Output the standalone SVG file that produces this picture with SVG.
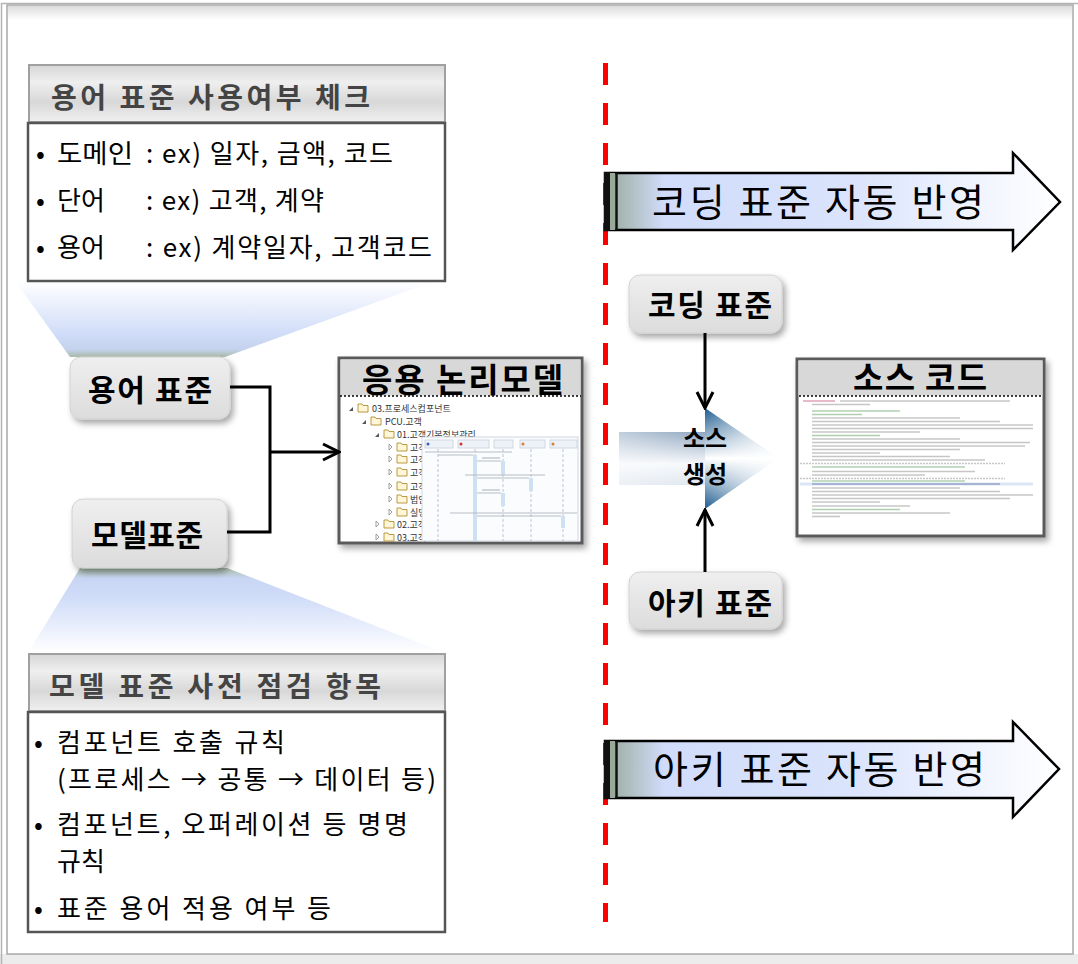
<svg xmlns="http://www.w3.org/2000/svg" width="1078" height="964" viewBox="0 0 1078 964">
<defs>
<style>
.ko{font-family:"Noto Sans CJK KR","Liberation Sans",sans-serif}
.hdr{font-size:28px;font-weight:700;fill:#444}
.body{font-size:26px;fill:#000}
.node{font-size:30px;font-weight:700;fill:#000}
.big{font-size:38px;fill:#000}
.ttl{font-size:33px;font-weight:700;fill:#000}
.tree{font-size:9px;fill:#333}
.conn{fill:none;stroke:#000;stroke-width:3}
.code{stroke-width:1.6;opacity:.55}
</style>
<linearGradient id="hdrG" x1="0" y1="0" x2="0" y2="1">
<stop offset="0" stop-color="#d6d6d6"/><stop offset=".3" stop-color="#efefef"/><stop offset=".65" stop-color="#d8d8d8"/><stop offset="1" stop-color="#f0f0f0"/>
</linearGradient>
<linearGradient id="nodeG" x1="0" y1="0" x2="0" y2="1">
<stop offset="0" stop-color="#efefef"/><stop offset="1" stop-color="#dcdcdc"/>
</linearGradient>
<linearGradient id="fanTop" x1="0" y1="0" x2="0" y2="1">
<stop offset="0" stop-color="#ffffff"/><stop offset=".7" stop-color="#d0dcf8"/><stop offset=".9" stop-color="#c4d2ee"/><stop offset="1" stop-color="#a9bca9"/>
</linearGradient>
<linearGradient id="fanBot" x1="0" y1="0" x2="0" y2="1">
<stop offset="0" stop-color="#a9bca9"/><stop offset=".12" stop-color="#c8d6f4"/><stop offset=".35" stop-color="#d0dcf8"/><stop offset="1" stop-color="#ffffff"/>
</linearGradient>
<linearGradient id="bigG" x1="0" y1="0" x2="1" y2="0">
<stop offset="0" stop-color="#98a898"/><stop offset=".13" stop-color="#d0dcfa"/><stop offset=".55" stop-color="#dbe4fc"/><stop offset="1" stop-color="#ffffff"/>
</linearGradient>
<linearGradient id="bandG" x1="0" y1="0" x2="0" y2="1">
<stop offset="0" stop-color="#8da5bf"/><stop offset=".6" stop-color="#f6f8fb"/><stop offset="1" stop-color="#dde5ee"/>
</linearGradient>
<linearGradient id="bandH" x1="0" y1="0" x2="1" y2="0">
<stop offset="0" stop-color="#ffffff" stop-opacity=".45"/><stop offset="1" stop-color="#ffffff" stop-opacity="0"/>
</linearGradient>
<linearGradient id="triG" x1="0" y1="0" x2="0" y2="1">
<stop offset="0" stop-color="#1c5a8e"/><stop offset=".5" stop-color="#ffffff"/><stop offset="1" stop-color="#1c5a8e"/>
</linearGradient>
<linearGradient id="triH" x1="0" y1="0" x2="1" y2="0">
<stop offset="0" stop-color="#ffffff" stop-opacity="0"/><stop offset="1" stop-color="#ffffff" stop-opacity=".95"/>
</linearGradient>
<linearGradient id="topShade" x1="0" y1="0" x2="0" y2="1">
<stop offset="0" stop-color="#dcdcdc"/><stop offset="1" stop-color="#ffffff"/>
</linearGradient>
<filter id="sh" x="-10%" y="-10%" width="130%" height="140%">
<feDropShadow dx="3" dy="4" stdDeviation="3" flood-color="#000" flood-opacity=".35"/>
</filter>
<marker id="open" viewBox="0 0 20 20" refX="18" refY="10" markerWidth="20" markerHeight="20" markerUnits="userSpaceOnUse" orient="auto">
<path d="M2,2 L18,10 L2,18" fill="none" stroke="#000" stroke-width="3"/>
</marker>
<g id="folder"><path d="M0,1 h4 l1,1.5 h5 v6.5 h-10 z" fill="#fff6d8" stroke="#b09030" stroke-width=".9"/></g>
</defs>

<!-- background frame -->
<rect width="1078" height="964" fill="#ffffff"/>
<rect x="0" y="954" width="1078" height="10" fill="#ececec"/>
<path d="M1.5,964 V3.5 H1078" fill="none" stroke="#b4b4b4" stroke-width="1.5"/>
<rect x="7" y="5" width="1066" height="949" fill="#ffffff" stroke="#a8a8a8" stroke-width="1.5"/>
<rect x="8" y="6" width="1064" height="14" fill="url(#topShade)"/>

<!-- fans -->
<polygon points="15,281 435,281 225,357 70,357" fill="url(#fanTop)"/>
<polygon points="80,568 227,568 445,653 28,653" fill="url(#fanBot)"/>

<!-- red divider -->
<line x1="605.5" y1="63" x2="605.5" y2="922" stroke="#ff0000" stroke-width="5" stroke-dasharray="22 18"/>

<!-- term check box -->
<g id="term-check">
<rect x="29" y="65" width="416" height="57" fill="url(#hdrG)" stroke="#a0a0a0" stroke-width="2"/>
<text class="ko hdr" x="51" y="108" textLength="319" lengthAdjust="spacing">용어 표준 사용여부 체크</text>
<rect x="28" y="123" width="417" height="158" fill="#ffffff" stroke="#555" stroke-width="2.5"/>
<g class="ko body">
<text x="36" y="163">•</text><text x="57" y="163" textLength="76" lengthAdjust="spacingAndGlyphs">도메인</text><text x="146" y="163" textLength="247" lengthAdjust="spacing">: ex) 일자, 금액, 코드</text>
<text x="36" y="210">•</text><text x="57" y="210">단어</text><text x="146" y="210" textLength="178" lengthAdjust="spacing">: ex) 고객, 계약</text>
<text x="36" y="257">•</text><text x="57" y="257">용어</text><text x="146" y="257" textLength="286" lengthAdjust="spacing">: ex) 계약일자, 고객코드</text>
</g>
</g>

<!-- model check box -->
<g id="model-check">
<rect x="29" y="654" width="416" height="57" fill="url(#hdrG)" stroke="#a0a0a0" stroke-width="2"/>
<text class="ko hdr" x="49" y="697" textLength="332" lengthAdjust="spacing">모델 표준 사전 점검 항목</text>
<rect x="28" y="712" width="417" height="220" fill="#ffffff" stroke="#555" stroke-width="2.5"/>
<g class="ko body">
<text x="34" y="752">•</text><text x="57" y="752" textLength="228" lengthAdjust="spacing">컴포넌트 호출 규칙</text>
<text x="57" y="789" textLength="379" lengthAdjust="spacing">(프로세스 → 공통 → 데이터 등)</text>
<text x="34" y="834">•</text><text x="57" y="834" textLength="351" lengthAdjust="spacing">컴포넌트, 오퍼레이션 등 명명</text>
<text x="57" y="871">규칙</text>
<text x="34" y="918">•</text><text x="57" y="918" textLength="274" lengthAdjust="spacing">표준 용어 적용 여부 등</text>
</g>
</g>

<!-- nodes -->
<g id="term-std">
<rect x="70" y="357" width="160" height="62" rx="11" fill="url(#nodeG)" stroke="#d2d2d2" filter="url(#sh)"/>
<text class="ko node" x="88" y="401" textLength="124" lengthAdjust="spacing">용어 표준</text>
</g>
<g id="model-std">
<rect x="72" y="499" width="155" height="69" rx="11" fill="url(#nodeG)" stroke="#d2d2d2" filter="url(#sh)"/>
<text class="ko node" x="91" y="546" textLength="112" lengthAdjust="spacing">모델표준</text>
</g>
<g id="coding-std">
<rect x="629" y="275" width="153" height="58" rx="11" fill="url(#nodeG)" stroke="#d2d2d2" filter="url(#sh)"/>
<text class="ko node" x="648" y="316" textLength="124" lengthAdjust="spacing">코딩 표준</text>
</g>
<g id="arch-std">
<rect x="629" y="572" width="153" height="57" rx="11" fill="url(#nodeG)" stroke="#d2d2d2" filter="url(#sh)"/>
<text class="ko node" x="648" y="614" textLength="124" lengthAdjust="spacing">아키 표준</text>
</g>

<!-- app logical model -->
<g id="app-model">
<rect x="339" y="358" width="243" height="185" fill="#ffffff" stroke="#5a5a5a" stroke-width="3" filter="url(#sh)"/>
<rect x="340.5" y="359.5" width="240" height="36" fill="#d8d8d8"/>
<text class="ko ttl" x="362" y="392" textLength="201" lengthAdjust="spacing">응용 논리모델</text>
<line x1="340" y1="396" x2="581" y2="396" stroke="#000" stroke-width="1.5" stroke-dasharray="2 2"/>
<g class="ko tree">
<path d="M349,411 l4,-4 v4 z" fill="#555"/><use href="#folder" x="358" y="403"/><text x="372" y="412">03.프로세스컴포넌트</text>
<path d="M362,424 l4,-4 v4 z" fill="#555"/><use href="#folder" x="371" y="416"/><text x="385" y="425">PCU.고객</text>
<path d="M375,437 l4,-4 v4 z" fill="#555"/><use href="#folder" x="384" y="429"/><text x="397" y="438">01.고객기본정보관리</text>
<path d="M389,444 l3,3 l-3,3 z" fill="none" stroke="#888" stroke-width=".8"/><use href="#folder" x="397" y="442"/><text x="410" y="451">고객</text>
<path d="M389,456 l3,3 l-3,3 z" fill="none" stroke="#888" stroke-width=".8"/><use href="#folder" x="397" y="454"/><text x="410" y="463">고객</text>
<path d="M389,469 l3,3 l-3,3 z" fill="none" stroke="#888" stroke-width=".8"/><use href="#folder" x="397" y="467"/><text x="410" y="476">고객</text>
<path d="M389,483 l3,3 l-3,3 z" fill="none" stroke="#888" stroke-width=".8"/><use href="#folder" x="397" y="481"/><text x="410" y="490">고객</text>
<path d="M389,496 l3,3 l-3,3 z" fill="none" stroke="#888" stroke-width=".8"/><use href="#folder" x="397" y="494"/><text x="410" y="503">법인</text>
<path d="M389,509 l3,3 l-3,3 z" fill="none" stroke="#888" stroke-width=".8"/><use href="#folder" x="397" y="507"/><text x="410" y="516">실명</text>
<path d="M376,521 l3,3 l-3,3 z" fill="none" stroke="#888" stroke-width=".8"/><use href="#folder" x="384" y="519"/><text x="397" y="528">02.고객</text>
<path d="M376,534 l3,3 l-3,3 z" fill="none" stroke="#888" stroke-width=".8"/><use href="#folder" x="384" y="532"/><text x="397" y="541">03.고객</text>
</g>
<!-- sequence overlay -->
<rect x="422" y="437" width="156" height="104" fill="#fbfcfe" stroke="#d0d8e2" stroke-width="1"/>
<g stroke="#c8d0dc" stroke-width=".8" fill="#eef2f8">
<rect x="425" y="440" width="28" height="8"/><rect x="458" y="440" width="31" height="8"/><rect x="494" y="440" width="19" height="8"/><rect x="520" y="440" width="25" height="8"/><rect x="550" y="440" width="27" height="8"/>
</g>
<circle cx="428" cy="444" r="1.5" fill="#3060c0"/><circle cx="461" cy="444" r="1.5" fill="#d03030"/><circle cx="523" cy="444" r="1.5" fill="#d08030"/><circle cx="553" cy="444" r="1.5" fill="#d08030"/>
<g stroke="#a8b8cc" stroke-width=".8" stroke-dasharray="3 2">
<line x1="438" y1="449" x2="438" y2="541"/><line x1="475" y1="449" x2="475" y2="541"/><line x1="503" y1="449" x2="503" y2="541"/><line x1="531" y1="449" x2="531" y2="541"/><line x1="563" y1="449" x2="563" y2="541"/>
</g>
<g fill="#cfe0f2">
<rect x="473" y="455" width="4" height="86"/><rect x="501" y="461" width="4" height="14"/><rect x="529" y="478" width="4" height="13"/><rect x="501" y="493" width="4" height="13"/><rect x="561" y="516" width="4" height="12"/>
</g>
<g stroke="#9aa4b0" stroke-width=".7">
<line x1="438" y1="455" x2="473" y2="455"/><line x1="477" y1="461" x2="501" y2="461"/><line x1="477" y1="478" x2="529" y2="478"/><line x1="477" y1="493" x2="501" y2="493"/><line x1="477" y1="516" x2="561" y2="516"/>
</g>
<g stroke="#b8bcc4" stroke-width="1.2">
<line x1="425" y1="452" x2="512" y2="452"/><line x1="482" y1="458" x2="500" y2="458"/><line x1="465" y1="475" x2="545" y2="475"/><line x1="482" y1="490" x2="500" y2="490"/><line x1="450" y1="513" x2="577" y2="513"/>
</g>
</g>

<!-- source code -->
<g id="source-code">
<rect x="797" y="359" width="247" height="177" fill="#ffffff" stroke="#5a5a5a" stroke-width="3" filter="url(#sh)"/>
<rect x="798.5" y="360.5" width="244" height="35" fill="#d8d8d8"/>
<text class="ko ttl" x="853" y="390" textLength="134" lengthAdjust="spacing">소스 코드</text>
<line x1="799" y1="396" x2="1042" y2="396" stroke="#000" stroke-width="1.5" stroke-dasharray="2 2"/>
<rect x="800" y="397.5" width="233" height="132" fill="#ffffff"/>
<rect x="800" y="482.5" width="233" height="3" fill="#dde6f4"/>
<g class="code" stroke="#999">
<line x1="803" y1="401" x2="835" y2="401" stroke="#d06080"/><line x1="840" y1="401" x2="1010" y2="401"/>
<line x1="812" y1="404.5" x2="870" y2="404.5"/>
<line x1="812" y1="411" x2="900" y2="411" stroke="#70a870"/>
<line x1="812" y1="414.5" x2="862" y2="414.5" stroke="#70a870"/>
<line x1="812" y1="418" x2="960" y2="418"/>
<line x1="812" y1="421.5" x2="1000" y2="421.5"/>
<line x1="812" y1="425" x2="1033" y2="425"/>
<line x1="812" y1="428.5" x2="1033" y2="428.5"/>
<line x1="812" y1="432" x2="920" y2="432"/>
<line x1="812" y1="435.5" x2="880" y2="435.5" stroke="#70a870"/>
<line x1="812" y1="439" x2="960" y2="439"/>
<line x1="812" y1="442.5" x2="1030" y2="442.5"/>
<line x1="812" y1="446" x2="1025" y2="446"/>
<line x1="812" y1="449.5" x2="960" y2="449.5"/>
<line x1="812" y1="453" x2="880" y2="453"/>
<line x1="812" y1="456.5" x2="950" y2="456.5"/>
<line x1="812" y1="460" x2="985" y2="460"/>
<line x1="800" y1="463.5" x2="1005" y2="463.5" stroke-dasharray="2 1"/>
<line x1="812" y1="467" x2="965" y2="467" stroke="#70a870"/>
<line x1="812" y1="471.5" x2="975" y2="471.5"/>
<line x1="812" y1="475" x2="925" y2="475"/>
<line x1="800" y1="478.5" x2="1005" y2="478.5" stroke-dasharray="2 1"/>
<line x1="812" y1="481" x2="965" y2="481" stroke="#70a870"/>
<line x1="812" y1="484" x2="1000" y2="484" stroke="#5a6aa0"/>
<line x1="812" y1="488" x2="960" y2="488"/>
<line x1="812" y1="491.5" x2="1000" y2="491.5"/>
<line x1="812" y1="495" x2="1033" y2="495"/>
<line x1="812" y1="498.5" x2="1010" y2="498.5"/>
<line x1="812" y1="502" x2="880" y2="502"/>
<line x1="812" y1="506" x2="910" y2="506"/>
<line x1="812" y1="509.5" x2="900" y2="509.5" stroke="#70a870"/>
<line x1="812" y1="513" x2="950" y2="513"/>
<line x1="812" y1="516.5" x2="840" y2="516.5"/>
</g>
</g>

<!-- source generation shape -->
<g id="source-gen">
<rect x="619" y="432" width="90" height="53" fill="url(#bandG)"/>
<rect x="619" y="432" width="90" height="53" fill="url(#bandH)"/>
<polygon points="705,408 778,458 705,509" fill="url(#triG)"/>
<polygon points="705,408 778,458 705,509" fill="url(#triH)"/>
<text class="ko" x="705" y="447" font-size="24" font-weight="700" text-anchor="middle">소스</text>
<text class="ko" x="705" y="483" font-size="24" font-weight="700" text-anchor="middle">생성</text>
</g>

<!-- big arrows -->
<g id="coding-reflect">
<path d="M605,173 H1013 V153 L1060,202 L1013,250 V230 H605 Z" fill="url(#bigG)" stroke="#000" stroke-width="2.5" stroke-linejoin="miter"/>
<rect x="604" y="172" width="6" height="59" fill="#111"/>
<rect x="610" y="173" width="5" height="57" fill="#9aa89a"/>
<line x1="616.5" y1="173" x2="616.5" y2="230" stroke="#111" stroke-width="2.5"/>
<text class="ko big" x="652" y="216" textLength="332" lengthAdjust="spacing">코딩 표준 자동 반영</text>
</g>
<g id="arch-reflect">
<path d="M605,741 H1013 V722 L1059,769 L1013,817 V798 H605 Z" fill="url(#bigG)" stroke="#000" stroke-width="2.5" stroke-linejoin="miter"/>
<rect x="604" y="740" width="6" height="59" fill="#111"/>
<rect x="610" y="741" width="5" height="57" fill="#9aa89a"/>
<line x1="616.5" y1="741" x2="616.5" y2="798" stroke="#111" stroke-width="2.5"/>
<text class="ko big" x="653" y="783" textLength="332" lengthAdjust="spacing">아키 표준 자동 반영</text>
</g>

<!-- connectors -->
<g id="connectors">
<polyline class="conn" points="230,387 270,387 270,532 227,532"/>
<line class="conn" x1="270" y1="452" x2="339" y2="452" marker-end="url(#open)"/>
<line class="conn" x1="705" y1="333" x2="705" y2="408" marker-end="url(#open)"/>
<line class="conn" x1="705" y1="572" x2="705" y2="510" marker-end="url(#open)"/>
</g>
</svg>
